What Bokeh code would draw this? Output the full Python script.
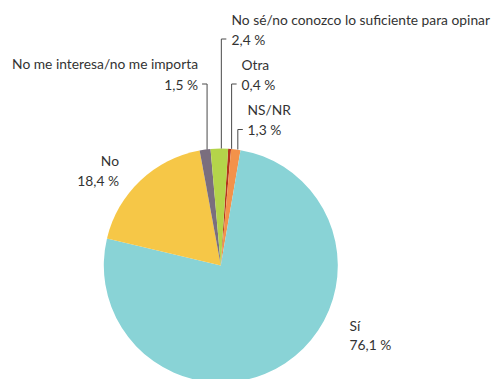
import math
from bokeh.plotting import figure
from bokeh.models import Range1d, ColumnDataSource
from bokeh.core.properties import value
from bokeh.embed import file_html
from bokeh.resources import INLINE

# ---- data (clockwise from the start angle near 12 o'clock) ----
categories = ["Otra", "NS/NR", "Sí", "No",
              "No me interesa/no me importa",
              "No sé/no conozco lo suficiente para opinar"]
shares = [0.4, 1.3, 76.1, 18.4, 1.5, 2.4]
colors = ["#B5341C", "#F3924A", "#89D3D6", "#F6C747", "#7A6E7E", "#B4D44A"]
value_labels = [("%.1f %%" % v).replace(".", ",") for v in shares]

# ---- layout ----
W, H = 494, 379
CX, CY, R = 220.3, -265.0, 117.0      # data y = -(image y)
START_DEG = 90 - 3.6
FONT = "Lato"
TEXT_COLOR = "#333333"
LINE_COLOR = "#4a4a4a"

p = figure(width=W, height=H, output_backend="svg", toolbar_location=None,
           x_range=Range1d(0, W), y_range=Range1d(-H, 0),
           min_border=0)
p.axis.visible = False
p.grid.visible = False
p.outline_line_color = None
p.background_fill_color = "white"
p.border_fill_color = "white"

total = sum(shares)
starts, ends, mids = [], [], []
cum = 0.0
for v in shares:
    a0 = math.radians(START_DEG - cum / total * 360)
    cum += v
    a1 = math.radians(START_DEG - cum / total * 360)
    starts.append(a0)
    ends.append(a1)
    mids.append((a0 + a1) / 2)

src = ColumnDataSource(dict(start=starts, end=ends, color=colors))
p.wedge(x=CX, y=CY, radius=R, start_angle="start", end_angle="end",
        direction="clock", fill_color="color", line_color=None, source=src)

# label placement (image coordinates): name pos, value pos, align, tick side
label_layout = {
    "No sé/no conozco lo suficiente para opinar": ((231, 18.5), (231, 38.5), "left", 1),
    "Otra": ((241, 63.5), (241, 83.5), "left", 1),
    "NS/NR": ((247, 109), (247, 129), "left", 1),
    "No me interesa/no me importa": ((197.5, 63), (197.5, 83.5), "right", -1),
    "No": ((118.5, 160), (118.5, 179.5), "right", 0),
    "Sí": ((349, 324.5), (349, 344), "left", 0),
}

xs, ys = [], []
tx, ty, tt, ta = [], [], [], []
for name, val, m in zip(categories, value_labels, mids):
    (nx, ny), (vx, vy), align, side = label_layout[name]
    tx += [nx, vx]
    ty += [-ny, -vy]
    tt += [name, val]
    ta += [align, align]
    if side != 0:
        px = CX + 2 + R * math.cos(m)
        py = CY + R * math.sin(m)
        xs.append([px, px, px + side * 5])
        ys.append([py, -vy, -vy])

p.multi_line(xs=xs, ys=ys, line_color=LINE_COLOR, line_width=1)

tsrc = ColumnDataSource(dict(x=tx, y=ty, text=tt, align=ta))
p.text(x="x", y="y", text="text", text_align="align", text_baseline="middle",
       text_font=value(FONT), text_font_size="13.8px", text_color=TEXT_COLOR,
       source=tsrc)

open("out.html", "w").write(file_html(p, INLINE))
